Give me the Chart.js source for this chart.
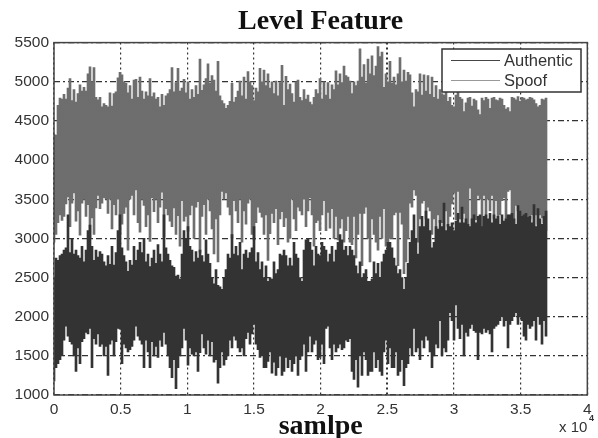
<!DOCTYPE html>
<html>
<head>
<meta charset="utf-8">
<title>Level Feature</title>
<script src="https://cdn.jsdelivr.net/npm/chart.js@4/dist/chart.umd.min.js"></script>
<style>
  html, body { margin: 0; padding: 0; background: #fff; }
  #wrap { width: 598px; height: 438px; }
  /* the reference is a soft scan */
  #levelChart { filter: blur(0.45px); }
</style>
</head>
<body>
<div id="wrap"><canvas id="levelChart" width="598" height="438"></canvas></div>
<script>
// Values: each sample keeps the low and high of the noisy trace
const chartTitle = 'Level Feature';
const xLabel = 'samlpe';
const seriesNames = ['Authentic', 'Spoof'];
const sampleStep = 150;

const spoofHigh = [
  4330,4320,4700,4790,4780,4840,4780,4920,5040,4760,4900,4740,4850,4960,4880,4930,4880,5100,5190,5000,
  5180,4800,4770,4800,4680,4720,4700,4680,4860,4690,4850,4870,5050,5120,5090,5000,4980,4860,4950,4780,
  5020,5030,4800,5060,4880,4780,4870,4820,5040,4810,4860,4780,4800,4680,4840,4700,4820,4850,4900,5180,
  4870,4990,5170,4880,4920,5030,4860,5000,4780,4900,4800,4950,4840,5290,4890,4960,5040,5230,4980,5080,
  5020,4880,5260,4820,4760,4720,4660,4700,4750,4980,4740,4800,4880,5010,4820,5060,4780,5130,5000,4950,
  4760,4920,4870,5170,5000,5150,4950,5100,4920,5000,4850,5010,4820,4990,5210,4700,5070,4900,4970,4850,
  4740,5000,5020,4800,4760,4900,4780,4830,4740,4710,4800,4900,4850,5040,4780,5000,4830,4990,4780,4960,
  4900,5140,4960,5100,4990,5200,5080,5060,5010,4850,5000,4950,5010,5420,5060,5220,4980,5290,5100,5330,
  5080,5200,5450,5320,5380,4930,5100,5000,5260,4980,5060,4960,5100,5310,5000,5150,5010,5120,5090,4860,
  4680,4900,4870,5100,4830,5090,4880,5080,4840,5060,4800,4950,4780,4900,4850,4830,4880,4750,4800,4700,
  4680,4830,4870,4800,4780,4620,4730,4790,4800,4690,4780,4760,4640,4580,4790,4760,4800,4780,4660,4790,
  4800,4770,4760,4790,4780,4700,4650,4670,4620,4800,4790,4770,4810,4750,4800,4790,4770,4780,4800,4790,
  4770,4720,4680,4700,4780,4770,4790
];
const spoofLow = [
  2950,3050,3200,3300,3230,3280,3440,3530,3150,3450,3580,3220,3350,3040,3450,3500,3280,3430,3000,3260,
  3050,3390,3550,3380,3450,3520,3500,3320,3500,3120,3430,3300,3500,3050,3180,3320,3400,2850,3500,3550,
  3300,3620,3200,3080,3500,3420,3150,3300,2960,3520,3340,3500,3200,3400,3590,3020,3380,3300,3220,3150,
  3390,3050,3290,2900,3480,3220,3280,3090,3300,3420,3000,3400,3470,2820,3280,3430,3050,3500,3350,3120,
  2800,3250,2700,3300,3600,3500,3580,3400,3300,3000,3480,3350,3200,3500,2950,3350,3180,3450,3500,3050,
  2980,3200,3400,3330,3270,3050,3300,2720,3060,3320,3200,3380,2920,3250,3340,3150,3260,2950,3000,3500,
  3250,3100,3400,3350,3300,3500,3150,3350,3520,3300,2900,3200,3230,3100,3300,3480,3100,3330,3130,3380,
  3000,3280,2980,3130,3250,2950,3100,3280,2950,2920,3280,2750,3050,3320,2650,3320,3400,3000,2700,3250,
  3050,2950,2850,3280,3000,3380,2900,2950,3000,3000,3300,3330,2650,3330,3180,2550,2700,3000,3450,3400,
  3620,3550,2950,3250,3450,3480,3250,3400,3350,3050,3250,2950,3300,3200,3200,3100,3350,3150,3280,3440,
  3580,3240,3600,3250,3250,3320,3150,3050,3640,3000,3300,3240,3550,3500,3150,3550,3200,3500,3350,3550,
  3250,3480,3130,3300,3480,3520,3200,3600,3620,3300,3150,3420,3350,3300,3200,3250,3200,3200,3250,3300,
  3150,3300,3180,3300,3260,3200,3100
];
const authenticHigh = [
  2500,2750,2720,2780,2800,2850,2880,3300,2820,3000,2800,2850,2780,2750,2900,2700,2850,3100,3170,2900,
  2720,2850,2760,2830,2800,2700,2650,2780,2670,2900,2660,2820,3100,3300,2880,2780,2700,2580,2720,2660,
  2900,2720,2850,2950,2820,3000,2700,2800,2640,2750,2850,2680,2920,2800,2700,3300,2880,2800,2720,2650,
  2630,2520,2530,2480,2800,3100,3000,3150,2900,2850,2700,2830,2750,2850,2780,2700,2980,2800,2680,2500,
  2420,2600,2400,2380,2350,2500,2600,2800,2750,3050,2800,2900,2780,2950,2600,2800,2850,2750,2820,2880,
  3150,2700,2820,2600,2700,2500,2650,2450,2500,2480,2700,2550,2600,2800,2780,2850,2780,2650,2750,2650,
  2950,2800,2750,2500,2450,2850,2980,3000,2950,2850,2650,2900,2800,2780,2950,2900,2850,2700,2800,2900,
  2700,2850,2950,3050,2980,2850,2900,2780,2900,2850,2780,2650,2550,2700,2500,2550,2600,2450,2450,2480,
  2700,2550,2680,2500,2700,2800,2850,2950,2950,2880,2750,2650,2550,2600,2500,2350,2500,2680,2950,3100,
  3300,3000,2800,3150,3280,3150,3350,3250,3100,2880,2950,3150,3120,3230,3150,3450,3100,3180,3150,3200,
  3100,3220,3320,3200,3400,3200,3250,3180,3150,3250,3300,3200,3280,3300,3150,3280,3300,3250,3320,3200,
  3300,3250,3280,3180,3300,3220,3250,3300,3300,3320,3250,3180,3420,3350,3280,3300,3320,3270,3280,3200,
  3430,3150,3380,3250,3180,3280,3350
];
const authenticLow = [
  1180,1350,1400,1450,1500,1700,1880,1750,1680,1650,1500,1300,1600,1400,1680,1720,1800,1780,1850,1350,
  1720,1650,1780,1620,1650,1500,1620,1250,1650,1700,1500,1680,1850,1840,1400,1650,1600,1550,1580,1620,
  1700,1880,1750,1700,1650,1350,1700,1550,1350,1680,1500,1620,1480,1700,1620,1800,1650,1500,1350,1220,
  1450,1080,1350,1500,1600,1850,1700,1380,1600,1520,1500,1550,1300,1540,1780,1600,1520,1700,1500,1680,
  1420,1450,1150,1350,1550,1380,1450,1500,1700,1600,1750,1700,1600,1550,1600,1500,1720,1800,1650,1780,
  1900,1650,1580,1480,1500,1350,1350,1430,1550,1280,1420,1250,1350,1500,1250,1300,1480,1350,1450,1300,
  1400,1500,1250,1450,1500,1650,1300,1550,1750,1550,1650,1700,1450,1480,1650,1400,1850,1880,1600,1450,
  1650,1550,1600,1650,1580,1600,1700,1680,1720,1300,1200,1450,1100,1500,1250,1550,1450,1250,1300,1300,
  1550,1350,1450,1300,1250,1550,1700,1400,1600,1350,1350,1550,1250,1300,1450,1120,1350,1400,1600,1500,
  1850,1550,1600,1450,1700,1600,1750,1700,1550,1350,1500,1650,1600,1950,1500,1600,1550,1700,2050,1950,
  1700,2150,1850,1720,1900,1500,1800,1750,1850,1900,1820,1800,1450,1800,1780,1850,1800,1830,1780,1550,
  1850,1880,1900,1950,2000,1880,1950,1600,1900,1950,2000,2050,1900,2000,1950,1750,1700,1900,1850,1880,
  1950,1700,2000,1900,1650,1950,1750
];

// Turn the low and high lists into floating bars on the linear sample axis
function toBars(low, high) {
  return low.map((v, i) => ({ x: i * sampleStep, y: [v, high[i]] }));
}

// Legend box, frame and the x 10^4 note are drawn here, the library has no inside legend
const framePlugin = {
  id: 'frame',
  afterDatasetsDraw(chart) {
    const ctx = chart.ctx;
    const a = chart.chartArea;
    ctx.save();
    ctx.strokeStyle = '#444';
    ctx.lineWidth = 1.5;
    ctx.strokeRect(a.left, a.top, a.right - a.left, a.bottom - a.top);

    ctx.fillStyle = '#fff';
    ctx.strokeStyle = '#333';
    ctx.fillRect(442, 49, 139, 43);
    ctx.strokeRect(442, 49, 139, 43);

    ctx.font = '16.5px "Liberation Sans"';
    ctx.textBaseline = 'middle';
    ctx.lineWidth = 1.2;
    ctx.strokeStyle = '#444';
    ctx.beginPath(); ctx.moveTo(451, 60.5); ctx.lineTo(500, 60.5); ctx.stroke();
    ctx.strokeStyle = '#999';
    ctx.beginPath(); ctx.moveTo(451, 80.5); ctx.lineTo(500, 80.5); ctx.stroke();
    ctx.fillStyle = '#333';
    ctx.fillText(seriesNames[0], 504, 61);
    ctx.fillText(seriesNames[1], 504, 81);

    ctx.font = '15px "Liberation Sans"';
    ctx.fillText('x 10', 559, 428);
    ctx.font = 'bold 9px "Liberation Sans"';
    ctx.fillText('4', 589, 419);
    ctx.restore();
  }
};

new Chart(document.getElementById('levelChart'), {
  type: 'bar',
  data: {
    datasets: [
      {
        label: seriesNames[0],
        data: toBars(authenticLow, authenticHigh),
        backgroundColor: '#333333',
        order: 1
      },
      {
        label: seriesNames[1],
        data: toBars(spoofLow, spoofHigh),
        backgroundColor: '#6e6e6e',
        order: 2
      }
    ]
  },
  options: {
    responsive: false,
    animation: false,
    // plot width of 533.33 puts one sample on exactly two pixels, so the bars join without seams
    layout: { padding: { right: 10.667 } },
    datasets: { bar: { grouped: false, barThickness: 2 } },
    scales: {
      x: {
        type: 'linear',
        min: 0,
        max: 40000,
        offset: false,
        afterFit(scale) { scale.height = 43; },
        grid: {
          offset: false,
          drawTicks: false,
          color: '#333',
          lineWidth: ctx => (ctx.tick && ctx.tick.value === 25000 ? 2 : 1.2)
        },
        border: { display: false, dash: [2, 3] },
        ticks: {
          stepSize: 5000,
          padding: 5,
          maxRotation: 0,
          color: '#333',
          font: { family: 'Liberation Sans', size: 15.5 },
          callback: v => String(v / 10000)
        },
        title: {
          display: true,
          text: xLabel,
          color: '#111',
          padding: { top: 0, bottom: -5.5 },
          font: { family: 'Liberation Serif', size: 28, weight: 'bold' }
        }
      },
      y: {
        min: 1000,
        max: 5500,
        afterFit(scale) { scale.width = 54; },
        grid: { drawTicks: false, color: '#333', lineWidth: 1.2 },
        border: { display: false, dash: [6, 3, 2, 3] },
        ticks: {
          stepSize: 500,
          padding: 5,
          color: '#333',
          font: { family: 'Liberation Sans', size: 15.5 },
          callback: v => String(v)
        }
      }
    },
    plugins: {
      legend: { display: false },
      tooltip: { enabled: false },
      title: {
        display: true,
        text: chartTitle,
        color: '#111',
        fullSize: false,
        padding: { top: 4.6, bottom: 4.4 },
        font: { family: 'Liberation Serif', size: 28, weight: 'bold' }
      }
    }
  },
  plugins: [framePlugin]
});
</script>
</body>
</html>
